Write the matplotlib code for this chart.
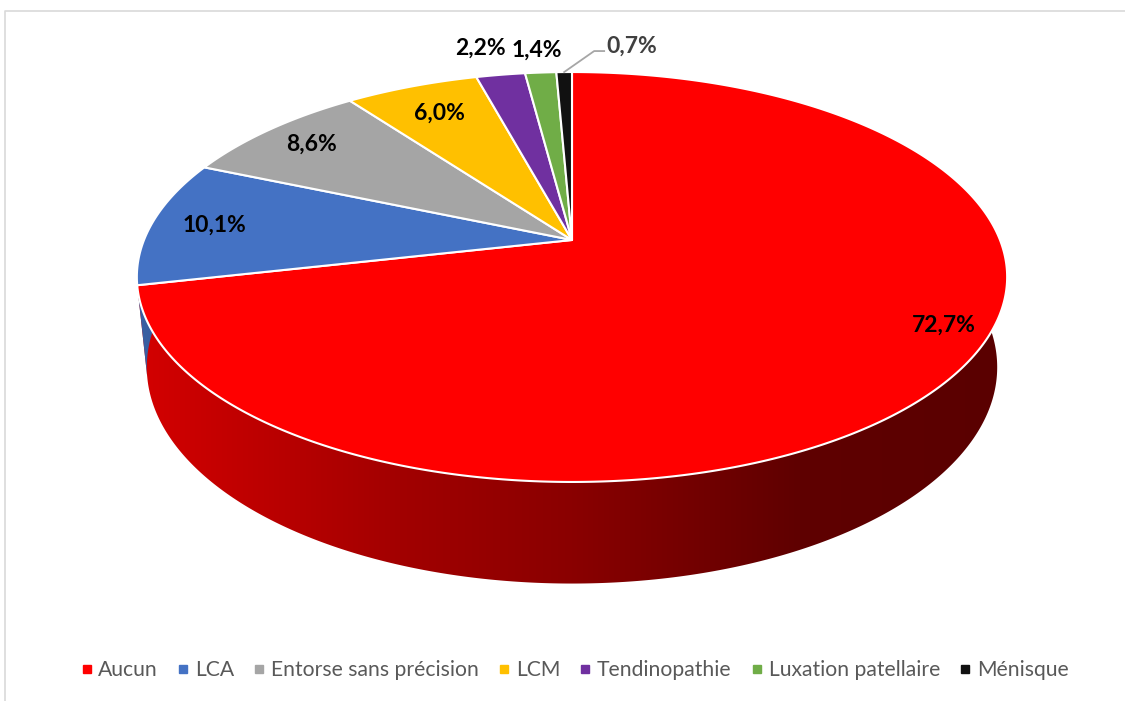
import numpy as np
import matplotlib.pyplot as plt
from matplotlib.patches import Polygon
from matplotlib.lines import Line2D
from matplotlib.colors import to_rgb

plt.rcParams['font.family'] = ['Lato', 'DejaVu Sans']

# données
categories = ['Aucun', 'LCA', 'Entorse sans précision', 'LCM', 'Tendinopathie',
              'Luxation patellaire', 'Ménisque']
values = [72.7, 10.1, 8.6, 6.0, 2.2, 1.4, 0.7]
labels = ['72,7%', '10,1%', '8,6%', '6,0%', '2,2%', '1,4%', '0,7%']
colors = ['#FF0000', '#4472C4', '#A5A5A5', '#FFC000', '#7030A0', '#70AD47', '#111111']

# mise en page du camembert 3D (pixels)
cx, cy = 572, 240          # sommet du camembert
scale = 428
alpha = np.radians(27.6)   # inclinaison
dist = 4.91                # distance de la caméra (perspective)
depth = 0.24               # épaisseur
label_r = [0.9, 0.85, 0.85, 0.8, 1.2, 1.16, 1.0]
label_shift = [12.4, 0, 0, 0, 1.2, 0, 0]


def project(X, Y, Z):
    v = Y * np.sin(alpha) + Z * np.cos(alpha)
    w = -Y * np.cos(alpha) + Z * np.sin(alpha)
    f = dist / (dist - w)
    return cx + scale * X * f, cy - scale * v * f


def rim(t, z, r=1.0):
    t = np.radians(t)
    return project(r * np.cos(t), r * np.sin(t), z)


fig = plt.figure(figsize=(11.25, 7.01), dpi=100)
ax = fig.add_axes([0, 0, 1, 1])
ax.set_xlim(0, 1125)
ax.set_ylim(701, 0)
ax.axis('off')

# cadre de la zone graphique
ax.plot([5, 5, 1125], [701, 11, 11], color='#D9D9D9', lw=1.2)

fracs = np.array(values) / np.sum(values)
edges = 90 - np.concatenate([[0], np.cumsum(fracs)]) * 360

# dégradé horizontal des faces latérales
gx = np.linspace(0, 1125, 600)
shade = np.interp(gx, [137, 400, 572, 800, 1007], [212, 162, 138, 95, 90]) / 255

for i in range(len(values)):
    ts = np.linspace(edges[i], edges[i + 1], max(3, int(abs(edges[i] - edges[i + 1]) * 2)))
    ts = ts[np.sin(np.radians(ts)) < 0.3]
    if len(ts) < 2:
        continue
    xt, yt = rim(ts, 0)
    xb, yb = rim(ts[::-1], -depth)
    poly = Polygon(np.column_stack([np.r_[xt, xb], np.r_[yt, yb]]), closed=True,
                   fc='none', ec='none', transform=ax.transData)
    ax.add_patch(poly)
    grad = np.clip(shade[None, :, None] * np.array(to_rgb(colors[i]))[None, None, :], 0, 1)
    im = ax.imshow(grad, extent=[0, 1125, 701, 0], aspect='auto',
                   interpolation='bilinear', zorder=2)
    im.set_clip_path(poly)

ax.set_xlim(0, 1125)
ax.set_ylim(701, 0)

# faces supérieures
for i in range(len(values)):
    ts = np.linspace(edges[i], edges[i + 1], max(3, int(abs(edges[i] - edges[i + 1]) * 2)))
    xs, ys = rim(ts, 0)
    pts = np.column_stack([np.r_[cx, xs], np.r_[cy, ys]])
    ax.add_patch(Polygon(pts, closed=True, fc=colors[i], ec='white', lw=1.5,
                         joinstyle='round', zorder=3))

# étiquettes
for i, lab in enumerate(labels):
    mid = (edges[i] + edges[i + 1]) / 2 + label_shift[i]
    if i == len(labels) - 1:
        x0, y0 = rim(mid, 0, 1.0)
        ax.plot([x0, x0 + 30, x0 + 40], [y0, y0 - 21, y0 - 21], color='#A6A6A6',
                lw=1.3, zorder=4)
        ax.text(x0 + 42, y0 - 26, lab, ha='left', va='center', fontsize=16.5,
                fontweight='bold', color='#404040', zorder=5)
        continue
    x, y = rim(mid, 0, label_r[i])
    ax.text(x, y, lab, ha='center', va='center', fontsize=16.5,
            fontweight='bold', color='black', zorder=5)

handles = [Line2D([], [], marker='s', ls='none', ms=5.5, mfc=c, mec=c) for c in colors]
ax.legend(handles, categories, loc='center', bbox_to_anchor=(575 / 1125, 1 - 670 / 701),
          ncol=7, frameon=False, fontsize=15.2, labelcolor='#595959',
          handlelength=0.5, handletextpad=0.3, columnspacing=0.95)

fig.savefig('out.png', dpi=100)
